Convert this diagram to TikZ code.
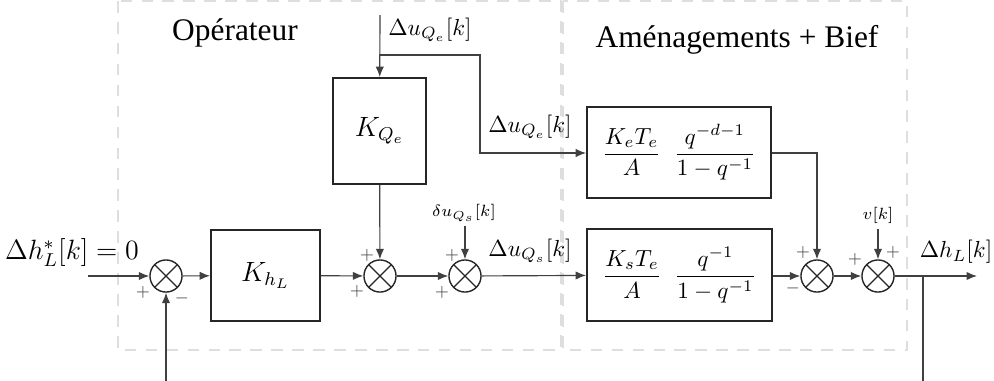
\documentclass[tikz,border=0pt]{standalone}
\usepackage{amsmath}
\usepackage{fontspec}
\setmainfont{Liberation Serif}
\usetikzlibrary{arrows.meta}
\begin{document}
\begin{tikzpicture}[x=0.43pt,y=-0.43pt,
  sig/.style={draw=black!75, line width=0.5pt, -{Latex[length=4.5pt,width=3.6pt]}},
  blk/.style={draw=black!85, line width=0.8pt, inner sep=0pt, font=\large},
  sumnode/.style={circle, draw=black!85, line width=0.6pt, minimum size=13.8pt, inner sep=0pt,
    path picture={\draw[black!85, line width=0.6pt]
      (path picture bounding box.north west) -- (path picture bounding box.south east)
      (path picture bounding box.north east) -- (path picture bounding box.south west);}},
  frame/.style={draw=black!13, line width=0.8pt, dash pattern=on 5pt off 4pt},
  sgn/.style={font=\scriptsize, inner sep=0pt, text=black!70},
  lbl/.style={inner sep=0pt, font=\normalsize},
  title/.style={inner sep=0pt, font=\fontsize{13.5}{16}\selectfont}]
\clip (0,0) rectangle (994,380);
\fill[white] (0,0) rectangle (994,380);
% frames
\draw[frame] (118,1) rectangle (561,350);
\draw[frame] (563,1) rectangle (907,350);
\node[title] (top) at (235,33) {Opérateur};
\node[title] (tam) at (737,40) {Aménagements + Bief};
% nodes
\coordinate (in) at (88,276);
\node[sumnode] (s1) at (166,276) {};
\node[blk, minimum width=46.9pt, minimum height=39.1pt] (khl) at (265.5,275.5) {$K_{h_L}$};
\node[sumnode] (s2) at (380,276) {};
\node[sumnode] (s3) at (465,276) {};
\node[blk, minimum width=40pt, minimum height=45.6pt] (kqe) at (379.5,131) {$K_{Q_e}$};
\node[blk, minimum width=79.1pt, minimum height=39.1pt, font=\normalsize] (ke) at (679,152.5)
  {$\dfrac{K_eT_e}{A}\;\;\dfrac{q^{-d-1}}{1-q^{-1}}$};
\node[blk, minimum width=79.6pt, minimum height=39.6pt, font=\normalsize] (ks) at (679.5,275)
  {$\dfrac{K_sT_e}{A}\;\;\dfrac{q^{-1}}{1-q^{-1}}$};
\node[sumnode] (s4) at (817,276) {};
\node[sumnode] (s5) at (878,276) {};
\coordinate (out) at (977,276);
\coordinate (fb) at (923,276);
\coordinate (fbl) at (923,420);
\coordinate (qin) at (380,15);
\coordinate (qbr) at (380,55);
\coordinate (qc1) at (480,55);
\coordinate (qc2) at (480,153);
\coordinate (din) at (465,226);
\coordinate (vin) at (878,229);
\coordinate (kec) at (817,153);
% labels
\node[lbl, font=\fontsize{12}{14}\selectfont] (lin) at (72,253) {$\Delta h_L^*[k]=0$};
\node[lbl] (lqe) at (430,30) {$\Delta u_{Q_e}[k]$};
\node[lbl] (lqe2) at (530,127) {$\Delta u_{Q_e}[k]$};
\node[lbl] (lqs) at (530,251) {$\Delta u_{Q_s}[k]$};
\node[lbl, font=\scriptsize] (ld) at (464,213) {$\delta u_{Q_s}[k]$};
\node[lbl, font=\scriptsize] (lv) at (878,215) {$v[k]$};
\node[lbl] (lout) at (956,252) {$\Delta h_L[k]$};
% signs
\node[sgn] at (143,292) {$+$};
\node[sgn] at (182,298) {$-$};
\node[sgn] at (367,255) {$+$};
\node[sgn] at (357,291) {$+$};
\node[sgn] at (452,255) {$+$};
\node[sgn] at (442,292) {$+$};
\node[sgn] at (803,252) {$+$};
\node[sgn] at (793,288) {$-$};
\node[sgn] at (855,259) {$+$};
\node[sgn] at (893,252) {$+$};
% connectors
\draw[sig] (in) -- (s1);
\draw[sig] (s1) -- (khl);
\draw[sig] (khl) -- (s2);
\draw[sig] (s2) -- (s3);
\draw[sig] (s3) -- (ks);
\draw[sig] (qin) -- (kqe);
\draw[sig] (qbr) -- (qc1) -- (qc2) -- (ke.west |- qc2);
\draw[sig] (kqe) -- (s2);
\draw[sig] (din) -- (s3);
\draw[sig] (ks.east |- s4) -- (s4);
\draw[sig] (ke.east |- kec) -- (kec) -- (s4);
\draw[sig] (s4) -- (s5);
\draw[sig] (vin) -- (s5);
\draw[sig] (s5) -- (out);
\draw[sig] (fb) -- (fbl) -| (s1);
\end{tikzpicture}
\end{document}
